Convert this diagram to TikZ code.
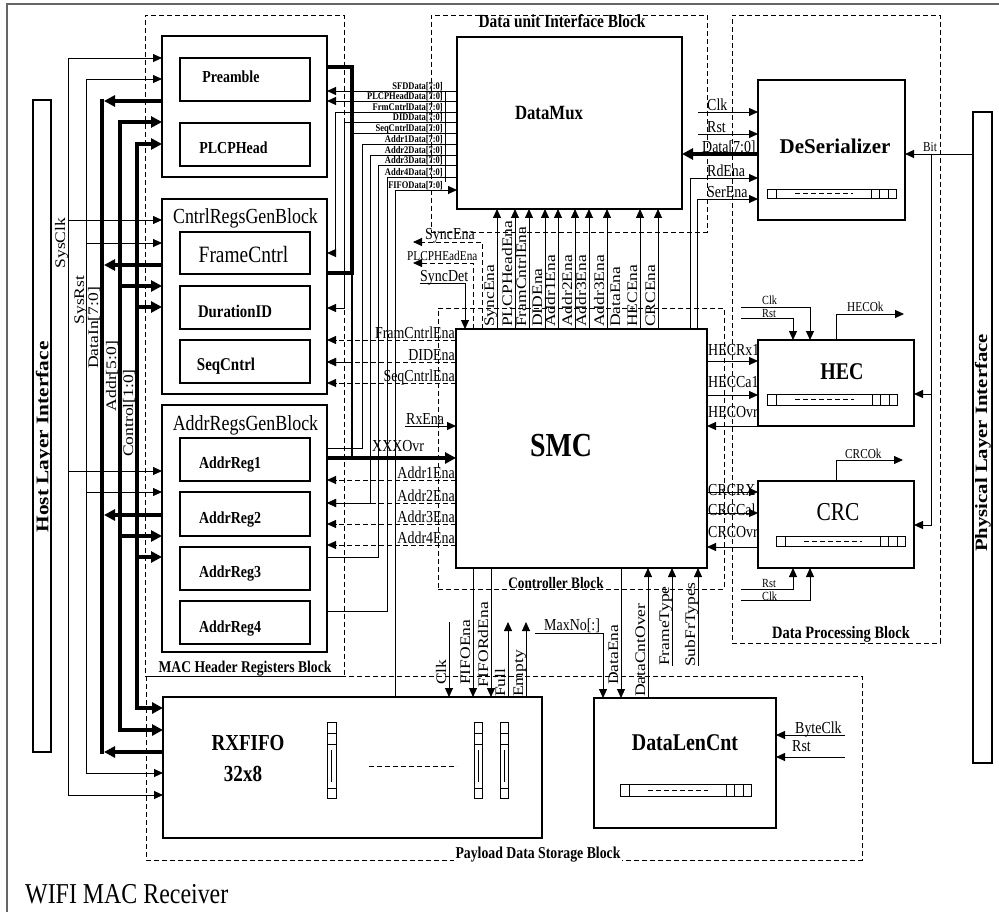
\documentclass[tikz,border=0pt]{standalone}
\usepackage{fontspec}
\setmainfont{Liberation Serif}
\newfontfamily\hf[FakeStretch=0.83]{Liberation Serif}
\newfontfamily\vf[FakeStretch=1.2]{Liberation Serif}
\usetikzlibrary{arrows.meta,fit}
\newcommand\hfs[1]{\hf\fontsize{#1}{#1}\selectfont}
\newcommand\vfs[1]{\vf\fontsize{#1}{#1}\selectfont}
\newcommand\regbar[4]{%
  \draw[line width=0.9pt] (#1,#2) rectangle (#3,#4);
  \draw[line width=0.9pt] (#1+9,#2) -- (#1+9,#4) (#3-25,#2) -- (#3-25,#4) (#3-17,#2) -- (#3-17,#4) (#3-8,#2) -- (#3-8,#4);
  \draw[line width=0.9pt, dash pattern=on 5pt off 3pt] (#1+28,{(#2+#4)/2}) -- (#3-43,{(#2+#4)/2});
}
\newcommand\fifobar[2]{%
  \draw[line width=0.9pt] (#1,722) rectangle (#1+#2,798);
  \draw[line width=0.9pt] (#1,733) -- (#1+#2,733) (#1,744) -- (#1+#2,744) (#1,788) -- (#1+#2,788);
  \draw[line width=0.7pt] (#1+#2/2,750) -- (#1+#2/2,782);
}
\begin{document}
\begin{tikzpicture}[x=1pt,y=-1pt,
  bx/.style={draw, line width=1.1pt, inner sep=0pt, outer sep=0pt},
  dblk/.style={draw, line width=0.9pt, dash pattern=on 5pt off 3pt, inner sep=0pt, outer sep=0pt},
  ln/.style={line width=0.9pt},
  bus/.style={line width=3.6pt},
  arr/.style={ln, -{Triangle[length=9pt,width=8pt]}},
  arrtwo/.style={ln, {Triangle[length=9pt,width=8pt]}-{Triangle[length=9pt,width=8pt]}},
  darr/.style={ln, dash pattern=on 5pt off 3pt, -{Triangle[length=9pt,width=8pt]}},
  barr/.style={bus, -{Triangle[length=11pt,width=11pt]}},
  barrtwo/.style={bus, {Triangle[length=11pt,width=11pt]}-{Triangle[length=11pt,width=11pt]}},
  lab/.style={inner sep=0pt, font=\hfs{16.8}},
  slab/.style={inner sep=0pt, font=\hfs{13.6}},
  xslab/.style={inner sep=0pt, font=\hfs{12.4}},
  tlab/.style={inner sep=0pt, font=\hfs{10.2}\bfseries},
  vlab/.style={inner sep=0pt, rotate=90, font=\vfs{14.6}},
  ttl/.style={inner sep=0pt, font=\hfs{#1}\bfseries},
  ttr/.style={inner sep=0pt, font=\hfs{#1}},
]
\useasboundingbox (0,0) rectangle (999,912);
\fill[white] (0,0) rectangle (999,912);
\draw[line width=1.3pt, black!60] (7,912) -- (7,4) -- (999,4);

% ---------- dashed blocks ----------
\node[dblk, fit={(145,15) (344,676)}] (macblk) {};
\node[dblk, fit={(431,15) (707,232)}] (dublk) {};
\node[dblk, fit={(438,308) (724,589)}] (ctrlblk) {};
\node[dblk, fit={(732,15) (940,643)}] (dpblk) {};
\node[dblk, fit={(146,676) (862,860)}] (payblk) {};

% ---------- boxes ----------
\node[bx, fit={(33,100) (51,752)}] (host) {};
\node[bx, fit={(973,112) (992,763)}] (phys) {};
\node[bx, fit={(162,36) (327,177)}] (pre) {};
\node[bx, fit={(180,58) (310,101)}] (preamble) {};
\node[bx, fit={(180,123) (310,166)}] (plcp) {};
\node[bx, fit={(162,199) (327,394)}] (cregs) {};
\node[bx, fit={(180,232) (310,274)}] (frmc) {};
\node[bx, fit={(180,286) (310,329)}] (durid) {};
\node[bx, fit={(180,340) (310,383)}] (seqc) {};
\node[bx, fit={(162,405) (327,652)}] (aregs) {};
\node[bx, fit={(180,438) (310,481)}] (ar1) {};
\node[bx, fit={(180,492) (310,536)}] (ar2) {};
\node[bx, fit={(180,547) (310,590)}] (ar3) {};
\node[bx, fit={(180,601) (310,644)}] (ar4) {};
\node[bx, fit={(457,37) (682,209)}] (dmux) {};
\node[bx, fit={(758,80) (905,220)}] (deser) {};
\node[bx, fit={(456,329) (707,568)}] (smc) {};
\node[bx, fit={(758,340) (914,426)}] (hec) {};
\node[bx, fit={(758,481) (914,568)}] (crc) {};
\node[bx, fit={(163,697) (542,838)}] (rxfifo) {};
\node[bx, fit={(594,698) (776,828)}] (dlc) {};

% register bars
\regbar{767}{189}{896}{198}
\regbar{767}{394}{897}{405}
\regbar{776}{536}{905}{546}
\regbar{620}{784}{751}{796}
\fifobar{327}{9}
\fifobar{474}{8}
\fifobar{500}{8}
\draw[ln, dash pattern=on 5pt off 3pt] (369,766) -- (457,766);

% ---------- box texts ----------
\node[vlab, font=\vfs{17.8}\bfseries, anchor=center] (hostt) at (44,437) {Host Layer Interface};
\node[vlab, font=\vfs{17.3}\bfseries, anchor=center] (physt) at (983,443) {Physical Layer Interface};
\node[ttl=16.8, anchor=base] (t1) at (231,83) {Preamble};
\node[ttl=16.8, anchor=base] (t2) at (233.5,154) {PLCPHead};
\node[ttr=21.5, anchor=base] (t3) at (245.5,224) {CntrlRegsGenBlock};
\node[ttr=23.4, anchor=base] (t4) at (243.5,263) {FrameCntrl};
\node[ttl=17.8, anchor=base] (t5) at (235,317) {DurationID};
\node[ttl=18, anchor=base] (t6) at (226,370) {SeqCntrl};
\node[ttr=21.6, anchor=base] (t7) at (245.5,430) {AddrRegsGenBlock};
\node[ttl=16.8, anchor=base] (t8) at (230,468) {AddrReg1};
\node[ttl=16.8, anchor=base] (t9) at (230,523) {AddrReg2};
\node[ttl=16.8, anchor=base] (t10) at (230,577) {AddrReg3};
\node[ttl=16.8, anchor=base] (t11) at (230,632) {AddrReg4};
\node[ttl=20.2, anchor=base] (t12) at (549,120) {DataMux};
\node[inner sep=0pt, font=\fontsize{21}{21}\selectfont\bfseries, anchor=base] (t13) at (835,154) {DeSerializer};
\node[ttl=33.6, anchor=base] (t14) at (561,456) {SMC};
\node[ttl=24, anchor=base] (t15) at (842,379) {HEC};
\node[ttr=25.8, anchor=base] (t16) at (838,520) {CRC};
\node[ttl=24, anchor=base] (t17) at (685,750) {DataLenCnt};
\node[ttl=22.9, anchor=base] (t18) at (248,750) {RXFIFO};
\node[ttl=23, anchor=base] (t19) at (243,781) {32x8};
\node[ttl=16.4, anchor=base] (t20) at (245,672) {MAC Header Registers Block};
\node[ttl=16, anchor=base] (t21) at (556,588) {Controller Block};
\node[ttl=17.4, anchor=base] (t22) at (841,638) {Data Processing Block};
\node[ttl=16.6, anchor=base, fill=white, inner xsep=2pt, inner ysep=1pt] (t23) at (538,858) {Payload Data Storage Block};
\node[ttl=18.5, anchor=base] (t24) at (562,28) {Data unit Interface Block};
\node[ttr=28.8, anchor=base west] (t25) at (25,903) {WIFI MAC Receiver};

% ---------- host bus ----------
\draw[arrtwo] (pre.west |- 0,58) -- (68,58) -- (68,795) -- (rxfifo.west |- 0,795);
\draw[arr] (68,220) -- (cregs.west |- 0,220);
\draw[arr] (68,471) -- (aregs.west |- 0,471);
\draw[arrtwo] (pre.west |- 0,79) -- (86,79) -- (86,773) -- (rxfifo.west |- 0,773);
\draw[arr] (86,243) -- (cregs.west |- 0,243);
\draw[arr] (86,492) -- (aregs.west |- 0,492);
\draw[bus] (102,99.2) -- (102,753.8);
\draw[barr] (pre.west |- 0,101) -- (104,101);
\draw[barr] (cregs.west |- 0,265) -- (104,265);
\draw[barr] (aregs.west |- 0,515) -- (104,515);
\draw[barr] (rxfifo.west |- 0,752) -- (104,752);
\draw[barrtwo] (pre.west |- 0,122) -- (120,122) -- (120,730) -- (rxfifo.west |- 0,730);
\draw[barr] (120,286) -- (cregs.west |- 0,286);
\draw[barr] (120,536) -- (aregs.west |- 0,536);
\draw[barrtwo] (pre.west |- 0,144) -- (137,144) -- (137,708) -- (rxfifo.west |- 0,708);
\draw[barr] (137,307) -- (cregs.west |- 0,307);
\draw[barr] (137,557) -- (aregs.west |- 0,557);
\node[vlab, anchor=base] (l1) at (65,243) {SysClk};
\node[vlab, anchor=base] (l2) at (84,300) {SysRst};
\node[vlab, anchor=base] (l3) at (98,328) {DataIn[7:0]};
\node[vlab, anchor=base] (l4) at (116,376) {Addr[5:0]};
\node[vlab, anchor=base] (l5) at (133,413) {Control[1:0]};

% ---------- DataMux data lines ----------
\draw[arr] (dmux.west |- 0,91) -- (pre.east |- 0,91);
\draw[arr] (dmux.west |- 0,101) -- (pre.east |- 0,101);
\draw[arr] (dmux.west |- 0,112) -- (335,112) -- (335,253) -- (cregs.east |- 0,253);
\draw[arr] (dmux.west |- 0,122) -- (344,122) -- (344,308) -- (cregs.east |- 0,308);
\draw[arr] (dmux.west |- 0,133) -- (352,133) -- (352,362) -- (cregs.east |- 0,362);
\draw[ln] (dmux.west |- 0,144) -- (362,144) -- (362,448) -- (aregs.east |- 0,448);
\draw[arr] (dmux.west |- 0,155) -- (370,155) -- (370,503) -- (aregs.east |- 0,503);
\draw[ln] (dmux.west |- 0,165) -- (378,165) -- (378,557) -- (aregs.east |- 0,557);
\draw[ln] (dmux.west |- 0,177) -- (387,177) -- (387,611) -- (aregs.east |- 0,611);
\draw[arr] (rxfifo.north -| 395,0) -- (395,190) -- (dmux.west |- 0,190);
\draw[ln] (445,92) -- (445,182);
\foreach \y/\t [count=\i] in {91/SFDData[7:0], 101/PLCPHeadData[7:0], 112/FrmCntrlData[7:0], 122/DIDData[7:0], 133/SeqCntrlData[7:0], 144/Addr1Data[7:0], 155/Addr2Data[7:0], 165/Addr3Data[7:0], 177/Addr4Data[7:0], 190/FIFOData[7:0]}
  \node[tlab, anchor=base east] (dl\i) at (443,\y-1.5) {\t};

% XXXOvr bus
\draw[bus] (pre.east |- 0,67) -- (352,67) -- (352,274.8);
\draw[bus] (cregs.east |- 0,273) -- (352,273);
\draw[line width=1.6pt] (352,273) -- (352,458);
\draw[barr] (aregs.east |- 0,458) -- (smc.west |- 0,458);
\node[lab, anchor=base west] (xo) at (372,451) {XXXOvr};

% enables to register blocks
\foreach \y/\t [count=\i] in {340/FramCntrlEna, 362/DIDEna, 383/SeqCntrlEna}{
  \draw[darr] (smc.west |- 0,\y) -- (cregs.east |- 0,\y);
  \node[lab, anchor=base east] (ce\i) at (455,\y-1.5) {\t};
}
\foreach \y/\t [count=\i] in {480/Addr1Ena, 503/Addr2Ena, 524/Addr3Ena, 545/Addr4Ena}{
  \draw[darr] (smc.west |- 0,\y) -- (aregs.east |- 0,\y);
  \node[lab, anchor=base east] (ae\i) at (455,\y-1.5) {\t};
}
\coordinate (rxin) at (405,426);
\draw[arr] (rxin) -- (smc.west |- rxin);
\node[lab, anchor=base west] (rxl) at (406,424) {RxEna};

% SyncEna / PLCPHEadEna / SyncDet
\coordinate (se) at (413,242);
\coordinate (pe) at (413,263);
\coordinate (sd) at (420,283);
\draw[darr] (smc.north -| 482,0) -- (482,242) -- (se);
\draw[darr] (smc.north -| 473,0) -- (473,263) -- (pe);
\draw[arr] (sd) -- (465,283) -- (smc.north -| 465,0);
\node[lab, anchor=base west] (sel) at (425,240) {SyncEna};
\node[slab, anchor=base west] (pel) at (407,261) {PLCPHEadEna};
\node[lab, anchor=base west] (sdl) at (420,281) {SyncDet};

% SMC -> DataMux enables
\foreach \x/\t [count=\i] in {497/SyncEna, 515/PLCPHeadEna, 529/FramCntrlEna, 545/DIDEna, 558/Addr1Ena, 575/Addr2Ena, 589/Addr3Ena, 607/Addr3Ena, 640/HECEna, 658/CRCEna}{
  \draw[arr] (smc.north -| \x,0) -- (dmux.south -| \x,0);
  \node[vlab, anchor=base west] (ve\i) at (\x-3,327) {\t};
}
\node[vlab, anchor=base west] (vde) at (620,327) {DataEna};

% ---------- DeSerializer ----------
\coordinate (dclk) at (698,112);
\coordinate (drst) at (698,134);
\draw[arr] (dclk) -- (deser.west |- dclk);
\draw[arr] (drst) -- (deser.west |- drst);
\draw[barr] (deser.west |- 0,154) -- (dmux.east |- 0,154);
\draw[arr] (smc.north -| 690,0) -- (690,178) -- (deser.west |- 0,178);
\draw[arr] (smc.north -| 697,0) -- (697,199) -- (deser.west |- 0,199);
\node[lab, anchor=base west] at (707,111) {Clk};
\node[lab, anchor=base west] at (707,133) {Rst};
\node[lab, anchor=base west] at (702,153) {Data[7:0]};
\node[lab, anchor=base west] at (707,177) {RdEna};
\node[lab, anchor=base west] at (707,198) {SerEna};
\draw[arr] (phys.west |- 0,154) -- (deser.east |- 0,154);
\node[slab, anchor=base west] at (923,152) {Bit};
\draw[arr] (931,154) -- (931,525) -- (crc.east |- 0,525);
\draw[arr] (931,394) -- (hec.east |- 0,394);

% ---------- HEC ----------
\coordinate (hclk) at (741,307);
\coordinate (hrst) at (741,318);
\draw[arr] (hclk) -- (810,307) -- (hec.north -| 810,0);
\draw[arr] (hrst) -- (793,318) -- (hec.north -| 793,0);
\node[xslab, anchor=base west] at (762,305) {Clk};
\node[xslab, anchor=base west] at (762,317.5) {Rst};
\draw[arr] (hec.north -| 836,0) -- (836,314) -- (904,314);
\node[slab, anchor=base west] at (847,312) {HECOk};
\draw[arr] (smc.east |- 0,361) -- (hec.west |- 0,361);
\draw[arr] (smc.east |- 0,395) -- (hec.west |- 0,395);
\draw[arr] (hec.west |- 0,426) -- (smc.east |- 0,426);
\node[lab, anchor=base west] at (708,355) {HECRx1};
\node[lab, anchor=base west] at (708,387) {HECCa1};
\node[lab, anchor=base west] at (708,417) {HECOvr};

% ---------- CRC ----------
\draw[arr] (smc.east |- 0,492) -- (crc.west |- 0,492);
\draw[arr] (smc.east |- 0,513) -- (crc.west |- 0,513);
\draw[arr] (crc.west |- 0,547) -- (smc.east |- 0,547);
\node[lab, anchor=base west] at (708,495) {CRCRX};
\node[lab, anchor=base west] at (708,515) {CRCCal};
\node[lab, anchor=base west] at (708,537) {CRCOvr};
\draw[arr] (crc.north -| 836,0) -- (836,460) -- (903,460);
\node[slab, anchor=base west] at (845,458) {CRCOk};
\coordinate (crst) at (741,589);
\coordinate (cclk) at (741,600);
\draw[arr] (crst) -- (793,589) -- (crc.south -| 793,0);
\draw[arr] (cclk) -- (810,600) -- (crc.south -| 810,0);
\node[xslab, anchor=base west] at (762,587.5) {Rst};
\node[xslab, anchor=base west] at (762,600) {Clk};

% ---------- SMC bottom ----------
\coordinate (fclk) at (449,622);
\draw[arr] (fclk) -- (rxfifo.north -| fclk);
\draw[arr] (smc.south -| 473,0) -- (rxfifo.north -| 473,0);
\draw[arr] (smc.south -| 491,0) -- (rxfifo.north -| 491,0);
\draw[arr] (rxfifo.north -| 508,0) -- (508,622);
\draw[arr] (rxfifo.north -| 526,0) -- (526,622);
\draw[arr] (535,633) -- (603,633) -- (dlc.north -| 603,0);
\draw[arr] (smc.south -| 621,0) -- (dlc.north -| 621,0);
\draw[arr] (dlc.north -| 648,0) -- (smc.south -| 648,0);
\draw[arr] (672,666) -- (smc.south -| 672,0);
\draw[arr] (698,666) -- (smc.south -| 698,0);
\node[vlab, anchor=base west] at (446,685) {Clk};
\node[vlab, anchor=base west] at (470,685) {FIFOEna};
\node[vlab, anchor=base west] at (488,688) {FIFORdEna};
\node[vlab, anchor=base west] at (505,697) {Full};
\node[vlab, anchor=base west] at (523,697) {Empty};
\node[lab, anchor=base west] at (544,630) {MaxNo[:]};
\node[vlab, anchor=base west] at (618,685) {DataEna};
\node[vlab, anchor=base west] at (645,697) {DataCntOver};
\node[vlab, anchor=base west] at (669,666) {FrameType};
\node[vlab, anchor=base west] at (695,667) {SubFrTypes};

% ---------- DataLenCnt ----------
\coordinate (bclk) at (845,735);
\coordinate (brst) at (845,757);
\draw[arr] (bclk) -- (dlc.east |- bclk);
\draw[arr] (brst) -- (dlc.east |- brst);
\node[lab, anchor=base west] at (795,733) {ByteClk};
\node[lab, anchor=base west] at (792,751) {Rst};
\end{tikzpicture}
\end{document}
